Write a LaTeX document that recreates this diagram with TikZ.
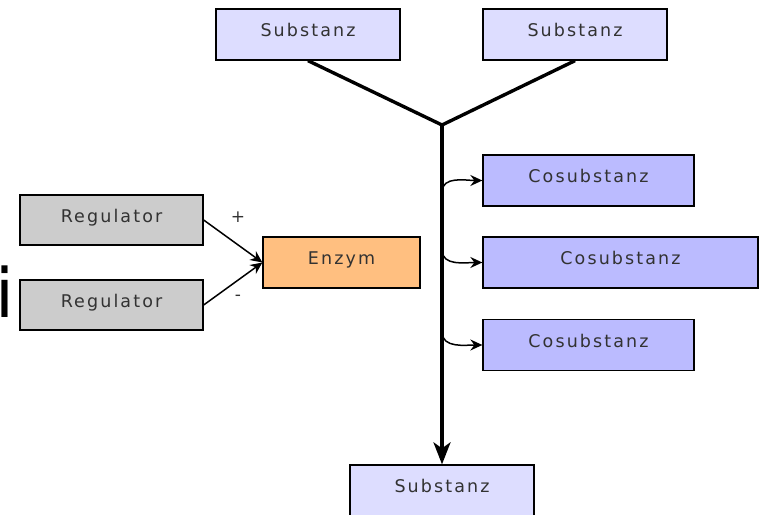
\documentclass[tikz,border=0pt]{standalone}
\usepackage{fontspec}
\setmainfont{DejaVu Sans}
\newfontfamily\boxfont[LetterSpace=12]{DejaVu Sans}
\usetikzlibrary{arrows.meta}
\definecolor{subfill}{RGB}{221,221,255}
\definecolor{cofill}{RGB}{187,187,255}
\definecolor{regfill}{RGB}{204,204,204}
\definecolor{enzfill}{RGB}{255,191,128}
\definecolor{boxtext}{RGB}{50,50,50}

\begin{document}
\begin{tikzpicture}[x=1pt,y=-1pt,
	boxnode/.style={rectangle, draw=black, line width=1.3pt, inner sep=0pt, font=\boxfont\fontsize{17.5}{20}\selectfont, text=boxtext, text depth=9pt},
	subnode/.style={boxnode, fill=subfill, minimum width=184pt, minimum height=51pt},
	conode/.style={boxnode, fill=cofill, minimum height=51pt},
	regnode/.style={boxnode, fill=regfill, minimum width=183pt, minimum height=50pt},
	enznode/.style={boxnode, fill=enzfill, minimum width=157pt, minimum height=51pt},
	mainline/.style={line width=3.4pt},
	sidearrow/.style={line width=1.5pt, -{Stealth[length=12pt,width=11pt,inset=4pt]}},
	]
	\useasboundingbox (0,0) rectangle (765,514);
	%Nodes
	\node[subnode]    (sub1)  at (308,34.5)  {Substanz};
	\node[subnode]    (sub2)  at (575,34.5)  {Substanz};
	\node[subnode]    (sub3)  at (442,490.5) {Substanz};
	\node[conode, minimum width=211pt] (co1) at (588.5,180.5) {Cosubstanz};
	\node[conode, minimum width=275pt] (co2) at (620.5,262.5) {Cosubstanz};
	\node[conode, minimum width=211pt] (co3) at (588.5,345)   {Cosubstanz};
	\node[regnode]    (reg1)  at (111.5,220) {Regulator};
	\node[regnode]    (reg2)  at (111.5,305) {Regulator};
	\node[enznode]    (enz)   at (341.5,262.5) {Enzym};
	\node[text=boxtext, font=\fontsize{17}{20}\selectfont] (plus)  at (238,217) {+};
	\node[text=boxtext, font=\fontsize{17}{20}\selectfont] (minus) at (238,298) {-};
	\node[anchor=base west, inner sep=0pt, font=\fontsize{68}{80}\selectfont] (cut) at (-5,317) {i};

	\coordinate (join) at (442,125);
	\coordinate (b1) at (442,192);
	\coordinate (b2) at (442,250);
	\coordinate (b3) at (442,332);

	%Edges
	\draw[mainline] (sub1.south) -- (join);
	\draw[mainline] (sub2.south) -- (join);
	\draw[mainline, -{Stealth[length=22pt,width=17pt,inset=6pt]}] (join) -- (sub3.north);

	\draw[sidearrow] (b1) to[out=90,in=180] (co1.west);
	\draw[sidearrow] (b2) to[out=-90,in=180] (co2.west);
	\draw[sidearrow] (b3) to[out=-90,in=180] (co3.west);

	\draw[sidearrow] (reg1.east) -- (enz.west);
	\draw[sidearrow] (reg2.east) -- (enz.west);
\end{tikzpicture}
\end{document}
